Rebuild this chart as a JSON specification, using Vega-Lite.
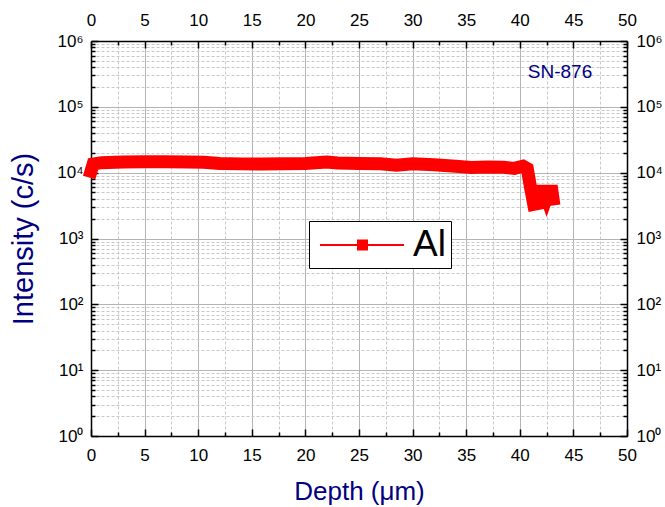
{
  "$schema": "https://vega.github.io/schema/vega-lite/v6.json",
  "autosize": "none",
  "width": 536,
  "height": 395,
  "padding": {"left": 91, "top": 41, "right": 38, "bottom": 71},
  "background": "white",
  "config": {
    "view": {"stroke": null},
    "font": "Liberation Sans",
    "axis": {
      "labelFont": "Liberation Sans",
      "labelFontSize": 17,
      "labelColor": "black",
      "labelFlush": false,
      "labelOverlap": false,
      "domainColor": "black",
      "domainWidth": 1.5,
      "tickColor": "black",
      "tickWidth": 1.5,
      "titleFont": "Liberation Sans",
      "titleFontWeight": "normal",
      "titleColor": "#000080"
    }
  },
  "data": {
    "values": [
      {"depth": 0.0, "intensity": 10500, "element": "Al"},
      {"depth": 0.2, "intensity": 13500, "element": "Al"},
      {"depth": 1.0, "intensity": 14200, "element": "Al"},
      {"depth": 3.0, "intensity": 14500, "element": "Al"},
      {"depth": 5.0, "intensity": 14600, "element": "Al"},
      {"depth": 7.0, "intensity": 14600, "element": "Al"},
      {"depth": 9.0, "intensity": 14500, "element": "Al"},
      {"depth": 10.5, "intensity": 14400, "element": "Al"},
      {"depth": 12.0, "intensity": 13800, "element": "Al"},
      {"depth": 14.0, "intensity": 13600, "element": "Al"},
      {"depth": 16.0, "intensity": 13500, "element": "Al"},
      {"depth": 18.0, "intensity": 13700, "element": "Al"},
      {"depth": 20.0, "intensity": 13800, "element": "Al"},
      {"depth": 22.0, "intensity": 14500, "element": "Al"},
      {"depth": 23.0, "intensity": 14000, "element": "Al"},
      {"depth": 25.0, "intensity": 13800, "element": "Al"},
      {"depth": 27.0, "intensity": 13700, "element": "Al"},
      {"depth": 28.5, "intensity": 13000, "element": "Al"},
      {"depth": 30.0, "intensity": 13700, "element": "Al"},
      {"depth": 32.0, "intensity": 13200, "element": "Al"},
      {"depth": 34.0, "intensity": 12500, "element": "Al"},
      {"depth": 35.5, "intensity": 12000, "element": "Al"},
      {"depth": 37.0, "intensity": 12200, "element": "Al"},
      {"depth": 38.5, "intensity": 12100, "element": "Al"},
      {"depth": 39.5, "intensity": 11600, "element": "Al"},
      {"depth": 40.3, "intensity": 12500, "element": "Al"},
      {"depth": 40.7, "intensity": 11500, "element": "Al"},
      {"depth": 41.0, "intensity": 6000, "element": "Al"},
      {"depth": 41.3, "intensity": 3300, "element": "Al"},
      {"depth": 41.7, "intensity": 3400, "element": "Al"},
      {"depth": 41.9, "intensity": 5200, "element": "Al"},
      {"depth": 42.3, "intensity": 5200, "element": "Al"},
      {"depth": 42.5, "intensity": 4200, "element": "Al"},
      {"depth": 42.7, "intensity": 5200, "element": "Al"},
      {"depth": 43.0, "intensity": 5200, "element": "Al"},
      {"depth": 43.1, "intensity": 4000, "element": "Al"}
    ]
  },
  "resolve": {"axis": {"x": "independent", "y": "independent"}},
  "layer": [
    {
      "mark": {"type": "line", "strokeWidth": 13, "strokeJoin": "miter", "strokeCap": "square"},
      "encoding": {
        "x": {
          "field": "depth", "type": "quantitative",
          "scale": {"domain": [0, 50], "nice": false, "zero": false},
          "axis": {
            "orient": "bottom",
            "values": [0,2.5,5,7.5,10,12.5,15,17.5,20,22.5,25,27.5,30,32.5,35,37.5,40,42.5,45,47.5,50],
            "labelExpr": "datum.value % 5 === 0 ? datum.label : ''",
            "labelPadding": 18,
            "tickSize": {"condition": {"test": "datum.value % 5 === 0", "value": -7}, "value": -4},
            "grid": true,
            "gridColor": {"condition": {"test": "datum.value % 5 === 0", "value": "#b4b4b4"}, "value": "#c8c8c8"},
            "gridDash": {"condition": {"test": "datum.value % 5 === 0", "value": []}, "value": [3, 2]},
            "gridWidth": 1,
            "title": "Depth (μm)",
            "titleFontSize": 26,
            "titlePadding": 12
          }
        },
        "y": {
          "field": "intensity", "type": "quantitative",
          "scale": {"type": "log", "domain": [1, 1000000], "nice": false},
          "axis": {
            "orient": "left",
            "values": [1,2,3,4,5,6,7,8,9,10,20,30,40,50,60,70,80,90,100,200,300,400,500,600,700,800,900,1000,2000,3000,4000,5000,6000,7000,8000,9000,10000,20000,30000,40000,50000,60000,70000,80000,90000,100000,200000,300000,400000,500000,600000,700000,800000,900000,1000000],
            "labelExpr": "abs(log(datum.value)/LN10 - round(log(datum.value)/LN10)) < 0.000001 ? '10' + ['⁰','¹','²','³','⁴','⁵','⁶'][round(log(datum.value)/LN10)] : ''",
            "labelPadding": 15,
            "tickSize": {"condition": {"test": "abs(log(datum.value)/LN10 - round(log(datum.value)/LN10)) < 0.000001", "value": -7}, "value": -4},
            "grid": true,
            "gridColor": {"condition": {"test": "abs(log(datum.value)/LN10 - round(log(datum.value)/LN10)) < 0.000001", "value": "#b4b4b4"}, "value": "#c8c8c8"},
            "gridDash": {"condition": {"test": "abs(log(datum.value)/LN10 - round(log(datum.value)/LN10)) < 0.000001", "value": []}, "value": [3, 2]},
            "gridWidth": 1,
            "title": "Intensity (c/s)",
            "titleFontSize": 29,
            "titlePadding": 18
          }
        },
        "color": {
          "field": "element", "type": "nominal",
          "scale": {"range": ["#ff0000"]},
          "legend": {
            "orient": "none",
            "legendX": 218,
            "legendY": 180,
            "title": null,
            "strokeColor": "black",
            "fillColor": "white",
            "padding": 5,
            "symbolType": "M-0.722,0H3.944M1.389,-0.25H1.889V0.25H1.389Z",
            "symbolSize": 1296,
            "symbolStrokeWidth": 2,
            "symbolFillColor": "#ff0000",
            "symbolStrokeColor": "#ff0000",
            "symbolOpacity": 1,
            "labelFont": "Liberation Sans",
            "labelFontSize": 37,
            "labelColor": "black",
            "labelOffset": 61
          }
        }
      }
    },
    {
      "mark": {"type": "line", "strokeOpacity": 0},
      "encoding": {
        "x": {
          "field": "depth", "type": "quantitative",
          "axis": {
            "orient": "top",
            "values": [0,2.5,5,7.5,10,12.5,15,17.5,20,22.5,25,27.5,30,32.5,35,37.5,40,42.5,45,47.5,50],
            "labelExpr": "datum.value % 5 === 0 ? datum.label : ''",
            "labelPadding": 19,
            "tickSize": {"condition": {"test": "datum.value % 5 === 0", "value": -7}, "value": -4},
            "grid": false,
            "title": null
          }
        },
        "y": {
          "field": "intensity", "type": "quantitative",
          "axis": {
            "orient": "right",
            "values": [1,2,3,4,5,6,7,8,9,10,20,30,40,50,60,70,80,90,100,200,300,400,500,600,700,800,900,1000,2000,3000,4000,5000,6000,7000,8000,9000,10000,20000,30000,40000,50000,60000,70000,80000,90000,100000,200000,300000,400000,500000,600000,700000,800000,900000,1000000],
            "labelExpr": "abs(log(datum.value)/LN10 - round(log(datum.value)/LN10)) < 0.000001 ? '10' + ['⁰','¹','²','³','⁴','⁵','⁶'][round(log(datum.value)/LN10)] : ''",
            "labelPadding": 16,
            "tickSize": {"condition": {"test": "abs(log(datum.value)/LN10 - round(log(datum.value)/LN10)) < 0.000001", "value": -7}, "value": -4},
            "grid": false,
            "title": null
          }
        }
      }
    },
    {
      "data": {"values": [{"label": "SN-876"}]},
      "mark": {"type": "text", "font": "Liberation Sans", "fontSize": 19, "color": "#000080", "align": "center", "baseline": "middle"},
      "encoding": {
        "x": {"datum": 43.75, "type": "quantitative", "axis": null},
        "y": {"datum": 340000, "type": "quantitative", "axis": null},
        "text": {"field": "label", "type": "nominal"}
      }
    }
  ]
}
